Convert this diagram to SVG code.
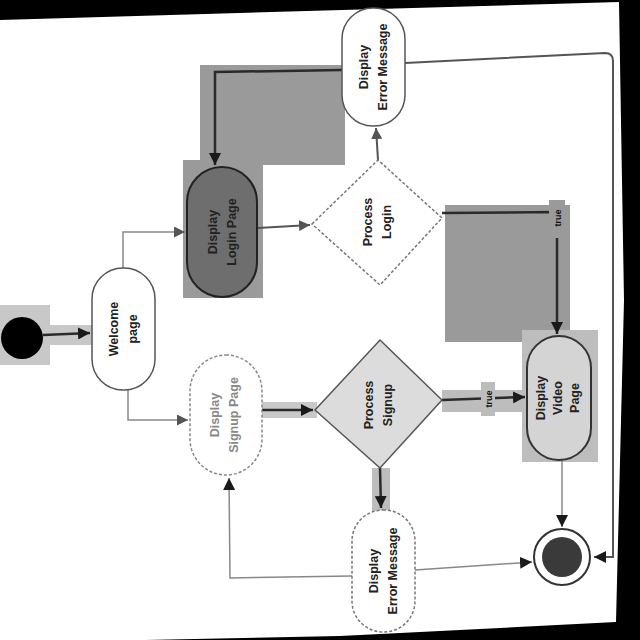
<svg xmlns="http://www.w3.org/2000/svg" width="640" height="640" viewBox="0 0 640 640">
<defs>
<style>
.lbl{font-family:"Liberation Sans",Arial,sans-serif;font-weight:bold;font-size:12.5px;fill:#222;text-anchor:middle}
.lblw{font-family:"Liberation Sans",Arial,sans-serif;font-weight:bold;font-size:12.5px;fill:#888;text-anchor:middle}
.tag{font-family:"Liberation Sans",Arial,sans-serif;font-weight:bold;font-size:9px;fill:#111;text-anchor:middle}
.hl{fill:#9a9a9a}
.hll{fill:#c8c8c8}
.dk{fill:none;stroke:#2a2a2a;stroke-width:2.5}
.md{fill:none;stroke:#555;stroke-width:2}
.lt{fill:none;stroke:#888;stroke-width:1.5}
</style>
<marker id="ah" viewBox="0 0 10 10" refX="10" refY="5" markerWidth="12" markerHeight="12" markerUnits="userSpaceOnUse" orient="auto">
<path d="M0,0 L10,5 L0,10 z" fill="#1a1a1a"/>
</marker>
<marker id="ahl" viewBox="0 0 10 10" refX="10" refY="5" markerWidth="11" markerHeight="11" markerUnits="userSpaceOnUse" orient="auto">
<path d="M0,0 L10,5 L0,10 z" fill="#555"/>
</marker>
</defs>
<rect x="0" y="0" width="640" height="640" fill="#000"/>
<polygon points="0,20 619,2 624,300 616,622 340,636 0,643" fill="#fff"/>

<g id="highlights">
<rect class="hll" x="0" y="305" width="50" height="60"/>
<rect class="hll" x="45" y="325" width="47" height="20"/>
<rect class="hl" x="200" y="65" width="145" height="100"/>
<rect class="hl" x="183" y="160" width="80" height="138"/>
<rect class="hl" x="445" y="205" width="125" height="137"/>
<rect x="522" y="330" width="76" height="132" fill="#bdbdbd"/>
<rect class="hll" x="262" y="402" width="55" height="16"/>
<rect x="442" y="390" width="85" height="22" fill="#bdbdbd"/>
<rect x="372" y="468" width="18" height="45" fill="#bdbdbd"/>
</g>

<g id="connectors">
<path class="dk" d="M43,335 L90,333" marker-end="url(#ah)"/>
<path class="lt" d="M123,268 L123,232 L185,232" marker-end="url(#ahl)"/>
<path class="lt" d="M128,390 L128,420 L188,420" marker-end="url(#ahl)"/>
<path class="md" d="M258,228 L310,225" marker-end="url(#ahl)"/>
<path class="md" d="M378,160 L376,128" marker-end="url(#ahl)"/>
<path class="dk" d="M342,70 L215,72 L215,165" marker-end="url(#ah)"/>
<path class="dk" d="M442,213 L557,212 L557,334" marker-end="url(#ah)"/>
<rect class="hl" x="549" y="200" width="16" height="38"/>
<text class="tag" transform="translate(561,218) rotate(-90)">true</text>
<path class="dk" d="M262,410 L313,410" marker-end="url(#ah)"/>
<path class="dk" d="M442,400 L525,397" marker-end="url(#ah)"/>
<rect x="481" y="382" width="14" height="34" fill="#bdbdbd"/>
<text class="tag" transform="translate(492,399) rotate(-90)">true</text>
<path class="dk" d="M380,468 L381,508" marker-end="url(#ah)"/>
<path class="lt" d="M352,576 L230,578 L229,478" marker-end="url(#ah)"/>
<path class="lt" d="M415,570 L532,562" marker-end="url(#ah)"/>
<path class="lt" d="M562,460 L562,527" marker-end="url(#ah)"/>
<path class="md" d="M405,63 L605,53 Q613,53 613,61 L613,557 L594,557" marker-end="url(#ah)"/>
</g>

<g id="initial">
<circle cx="22" cy="338" r="21" fill="#000"/>
</g>

<g id="welcome">
<rect x="92" y="268" width="63" height="122" rx="31" fill="#fff" stroke="#555" stroke-width="1.5"/>
<text class="lbl" transform="translate(123,329) rotate(-90)"><tspan x="0" y="-5">Welcome</tspan><tspan x="0" y="14">page</tspan></text>
</g>

<g id="login">
<rect x="187" y="167" width="70" height="130" rx="35" fill="#6e6e6e" stroke="#222" stroke-width="2"/>
<text class="lbl" transform="translate(222,232) rotate(-90)"><tspan x="0" y="-5">Display</tspan><tspan x="0" y="14">Login Page</tspan></text>
</g>

<g id="error-top">
<rect x="342" y="8" width="63" height="118" rx="31" fill="#fff" stroke="#555" stroke-width="1.5"/>
<text class="lbl" transform="translate(373,67) rotate(-90)"><tspan x="0" y="-5">Display</tspan><tspan x="0" y="14">Error Message</tspan></text>
</g>

<g id="process-login">
<polygon points="312,224 378,160 442,218 380,285" fill="#fff" stroke="#777" stroke-width="1.5" stroke-dasharray="3 2"/>
<text class="lbl" transform="translate(377,222) rotate(-90)"><tspan x="0" y="-5">Process</tspan><tspan x="0" y="14">Login</tspan></text>
</g>

<g id="signup">
<rect x="190" y="355" width="72" height="120" rx="36" fill="#fff" stroke="#888" stroke-width="1.5" stroke-dasharray="3 2"/>
<text class="lblw" transform="translate(224,415) rotate(-90)"><tspan x="0" y="-5">Display</tspan><tspan x="0" y="14">Signup Page</tspan></text>
</g>

<g id="process-signup">
<polygon points="315,410 380,340 442,400 380,468" fill="#dcdcdc" stroke="#555" stroke-width="1.5"/>
<text class="lbl" transform="translate(378,405) rotate(-90)"><tspan x="0" y="-5">Process</tspan><tspan x="0" y="14">Signup</tspan></text>
</g>

<g id="error-bottom">
<rect x="352" y="510" width="63" height="122" rx="31" fill="#fff" stroke="#777" stroke-width="1.5" stroke-dasharray="3 2"/>
<text class="lbl" transform="translate(383,571) rotate(-90)"><tspan x="0" y="-5">Display</tspan><tspan x="0" y="14">Error Message</tspan></text>
</g>

<g id="video">
<rect x="527" y="336" width="64" height="124" rx="32" fill="#d4d4d4" stroke="#333" stroke-width="2"/>
<text class="lbl" transform="translate(559,398) rotate(-90)"><tspan x="0" y="-14">Display</tspan><tspan x="0" y="3">Video</tspan><tspan x="0" y="20">Page</tspan></text>
</g>

<g id="final">
<circle cx="562" cy="557" r="28" fill="#fff" stroke="#333" stroke-width="2"/>
<circle cx="562" cy="557" r="20" fill="#3a3a3a"/>
</g>
</svg>
